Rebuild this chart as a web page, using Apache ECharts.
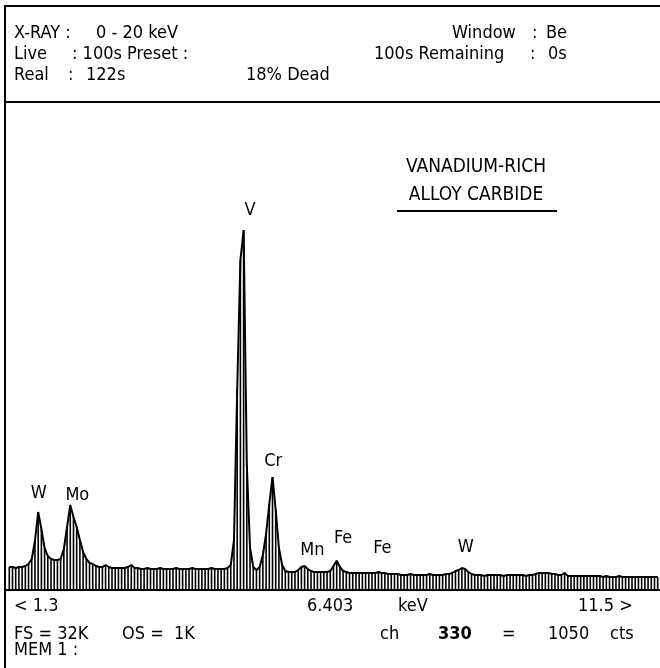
<!DOCTYPE html>
<html><head><meta charset="utf-8">
<script src="https://cdn.jsdelivr.net/npm/echarts@6/dist/echarts.min.js"></script>
<style>html,body{margin:0;padding:0;background:#fff}#c{width:660px;height:668px}</style>
</head><body><div id="c"></div>
<script>
// Channel energies (keV) and counts
const energies = [
1.30,1.35,1.40,1.45,1.50,1.55,1.60,1.65,1.70,1.75,
1.80,1.85,1.90,1.95,2.00,2.05,2.10,2.15,2.20,2.25,
2.30,2.35,2.40,2.45,2.50,2.55,2.60,2.65,2.70,2.75,
2.80,2.85,2.90,2.95,3.00,3.05,3.10,3.15,3.20,3.25,
3.30,3.35,3.40,3.45,3.50,3.55,3.60,3.65,3.70,3.75,
3.80,3.85,3.90,3.95,4.00,4.05,4.10,4.15,4.20,4.25,
4.30,4.35,4.40,4.45,4.50,4.55,4.60,4.65,4.70,4.75,
4.80,4.85,4.90,4.95,5.00,5.05,5.10,5.15,5.20,5.25,
5.30,5.35,5.40,5.45,5.50,5.55,5.60,5.65,5.70,5.75,
5.80,5.85,5.90,5.95,6.00,6.05,6.10,6.15,6.20,6.25,
6.30,6.35,6.40,6.45,6.50,6.55,6.60,6.65,6.70,6.75,
6.80,6.85,6.90,6.95,7.00,7.05,7.10,7.15,7.20,7.25,
7.30,7.35,7.40,7.45,7.50,7.55,7.60,7.65,7.70,7.75,
7.80,7.85,7.90,7.95,8.00,8.05,8.10,8.15,8.20,8.25,
8.30,8.35,8.40,8.45,8.50,8.55,8.60,8.65,8.70,8.75,
8.80,8.85,8.90,8.95,9.00,9.05,9.10,9.15,9.20,9.25,
9.30,9.35,9.40,9.45,9.50,9.55,9.60,9.65,9.70,9.75,
9.80,9.85,9.90,9.95,10.00,10.05,10.10,10.15,10.20,10.25,
10.30,10.35,10.40,10.45,10.50,10.55,10.60,10.65,10.70,10.75,
10.80,10.85,10.90,10.95,11.00,11.05,11.10,11.15,11.20,11.25,
11.30,11.35,11.40
];
const counts = [
828,830,792,826,828,864,936,1116,1764,2808,
2196,1512,1224,1116,1080,1082,1116,1476,2268,3060,
2628,2268,1800,1368,1116,972,936,864,828,826,
900,828,792,794,790,792,792,828,900,792,
790,756,758,792,756,756,754,792,756,756,
756,758,792,756,756,754,756,790,756,756,
756,754,756,792,756,756,758,756,792,900,
1800,7200,11880,12960,4500,1512,828,720,828,1260,
2016,3096,4068,2880,1512,900,684,648,650,648,
720,828,864,756,684,648,648,650,648,648,
684,864,1050,828,684,648,612,614,612,612,
612,612,614,612,612,648,612,610,576,576,
576,574,540,540,542,576,540,540,538,540,
540,576,540,540,540,538,576,578,612,684,
720,792,756,648,576,540,540,540,504,540,
540,540,538,540,504,540,540,540,540,538,
540,504,540,540,576,612,612,614,612,576,
576,540,540,612,504,504,506,504,504,504,
504,504,504,506,504,468,504,468,468,470,
504,468,468,470,468,468,468,470,468,468,
468,470,468
];
// Peak identification labels
const peakNames = ['W','Mo','V','Cr','Mn','Fe','Fe','W'];
const peakLabelE = [1.76,2.36,5.05,5.41,6.02,6.50,7.11,8.41];
const peakLabelCts = [3490,3420,13680,4640,1440,1870,1510,1550];
// Range / readout texts
const rangeLow = '< 1.3';
const cursorE = '6.403';
const rangeUnit = 'keV';
const rangeHigh = '11.5 >';
const energyMin = 1.28, energyMax = 11.436, countMax = 17568;

const FONT = "'DejaVu Sans Condensed','Liberation Sans Narrow','DejaVu Sans',sans-serif";
function txt(text, x, y, size, align, weight){
  return {type:'text', silent:true, style:{text:text, x:x, y:y, fill:'#000',
    font:(weight||'normal')+' '+size+'px '+FONT, textAlign:align||'left', textVerticalAlign:'middle'}};
}
function ln(x1,y1,x2,y2,w){
  return {type:'line', silent:true, shape:{x1:x1,y1:y1,x2:x2,y2:y2}, style:{stroke:'#000', lineWidth:w||2}};
}
const pts = energies.map((e,i)=>[e,counts[i]]);
const chart = echarts.init(document.getElementById('c'), null, {renderer:'canvas'});
const S = 18;
chart.setOption({
  animation:false,
  backgroundColor:'#fff',
  grid:{left:8, right:0, top:102, bottom:78},
  xAxis:{type:'value', min:energyMin, max:energyMax, axisLine:{show:false}, axisTick:{show:false}, axisLabel:{show:false}, splitLine:{show:false}},
  yAxis:{type:'value', min:0, max:countMax, show:false, splitLine:{show:false}},
  series:[
    {type:'bar', data:pts, barWidth:1.6, itemStyle:{color:'#000'}, silent:true},
    {type:'line', data:pts, showSymbol:false, symbol:'none', lineStyle:{color:'#000', width:2}, silent:true},
    {type:'scatter', symbolSize:0, silent:true, itemStyle:{opacity:1},
      data:peakNames.map((n,i)=>({name:n, value:[peakLabelE[i], peakLabelCts[i]]})),
      label:{show:true, position:'inside', formatter:'{b}', color:'#000', opacity:1, fontSize:S, fontFamily:FONT}}
  ],
  graphic:[
    ln(5,6,660,6,2), ln(5,5,5,668,2), ln(5,102,660,102,2), ln(5,590,660,590,2),
    txt('X-RAY :',14,33,S), txt('0 - 20 keV',96,33,S),
    txt('Window',452,33,S), txt(':',532,33,S), txt('Be',546,33,S),
    txt('Live',14,54,S), txt(': 100s Preset :',72,54,S),
    txt('100s Remaining',374,54,S), txt(':',530,54,S), txt('0s',548,54,S),
    txt('Real',14,75,S), txt(':',68,75,S), txt('122s',86,75,S), txt('18% Dead',246,75,S),
    txt('VANADIUM-RICH',476,167,19,'center'),
    txt('ALLOY CARBIDE',476,195,19,'center'),
    ln(397,211,557,211,2),
    txt(rangeLow,14,606,S), txt(cursorE,307,606,S), txt(rangeUnit,398,606,S), txt(rangeHigh,578,606,S),
    txt('FS = 32K',14,634,S), txt('OS =  1K',122,634,S), txt('ch',380,634,S),
    txt('330',438,634,S,'left','bold'), txt('=',502,634,S), txt('1050',548,634,S), txt('cts',610,634,S),
    txt('MEM 1 :',14,650,S)
  ]
});
</script></body></html>
